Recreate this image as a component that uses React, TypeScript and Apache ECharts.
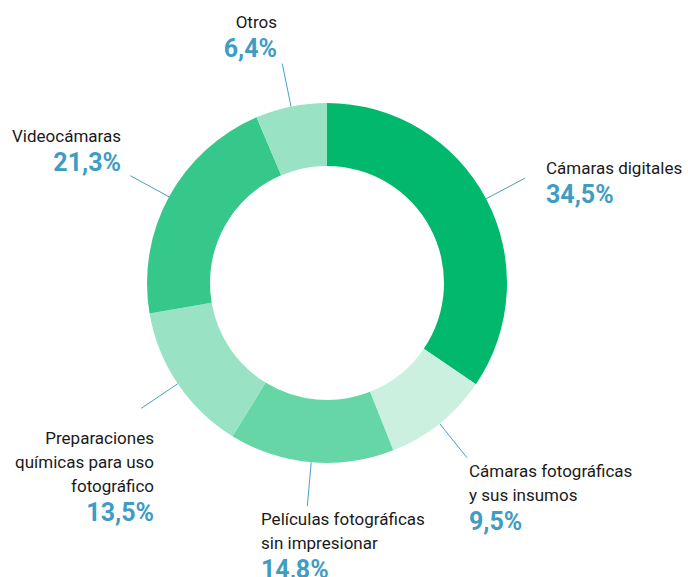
import React, { useEffect, useRef } from 'react';
import * as echarts from 'echarts';

const categories = [
  'Cámaras digitales',
  'Cámaras fotográficas\ny sus insumos',
  'Películas fotográficas\nsin impresionar',
  'Preparaciones\nquímicas para uso\nfotográfico',
  'Videocámaras',
  'Otros',
];
const values = [34.5, 9.5, 14.8, 13.5, 21.3, 6.4];
const sliceColors = ['#02b86c', '#ccf0e0', '#66d6a7', '#99e3c4', '#36c88b', '#99e3c4'];

// label block anchors (layout only)
const labelAnchors = [
  { x: 546, y: 156, align: 'left' },
  { x: 469, y: 459, align: 'left' },
  { x: 261, y: 507, align: 'left' },
  { x: 154, y: 426, align: 'right' },
  { x: 121, y: 124, align: 'right' },
  { x: 277, y: 10, align: 'right' },
];

const FONT = "'Liberation Sans Narrow', 'Roboto', sans-serif";

function fmtPct(v: number) {
  return v.toFixed(1).replace('.', ',') + '%';
}

export default function App() {
  const ref = useRef<HTMLDivElement>(null);
  useEffect(() => {
    document.body.style.margin = '0';
    const chart = echarts.init(ref.current!, null, { renderer: 'svg' });
    const data = categories.map((name, i) => ({
      name,
      value: values[i],
      itemStyle: { color: sliceColors[i] },
    }));
    chart.setOption({
      animation: false,
      backgroundColor: '#ffffff',
      series: [
        {
          type: 'pie',
          center: [327, 283],
          radius: [117, 180],
          startAngle: 90,
          clockwise: true,
          avoidLabelOverlap: false,
          silent: true,
          data,
          itemStyle: { borderWidth: 0 },
          label: {
            show: true,
            position: 'outside',
            fontFamily: FONT,
            formatter: (p: any) => {
              const lines = String(p.name).split('\n').map((s: string) => `{n|${s}}`);
              return lines.join('\n') + `\n{v|${fmtPct(p.value)}}`;
            },
            rich: {
              n: { fontSize: 17, lineHeight: 24, color: '#1a1a1a', fontFamily: FONT },
              v: { fontSize: 25, lineHeight: 28, color: '#3f9cc3', fontWeight: 'bold', fontFamily: FONT },
            },
          },
          labelLine: {
            show: true,
            length: 44,
            length2: 0,
            smooth: false,
            lineStyle: { color: '#4a9ec6', width: 1 },
          },
          labelLayout: (params: any) => {
            const a = labelAnchors[params.dataIndex];
            return {
              x: a.x,
              y: a.y,
              align: a.align,
              verticalAlign: 'top',
              labelLinePoints: params.labelLinePoints,
            };
          },
        },
      ],
    });
    return () => chart.dispose();
  }, []);
  return <div ref={ref} style={{ width: 688, height: 577 }} />;
}
